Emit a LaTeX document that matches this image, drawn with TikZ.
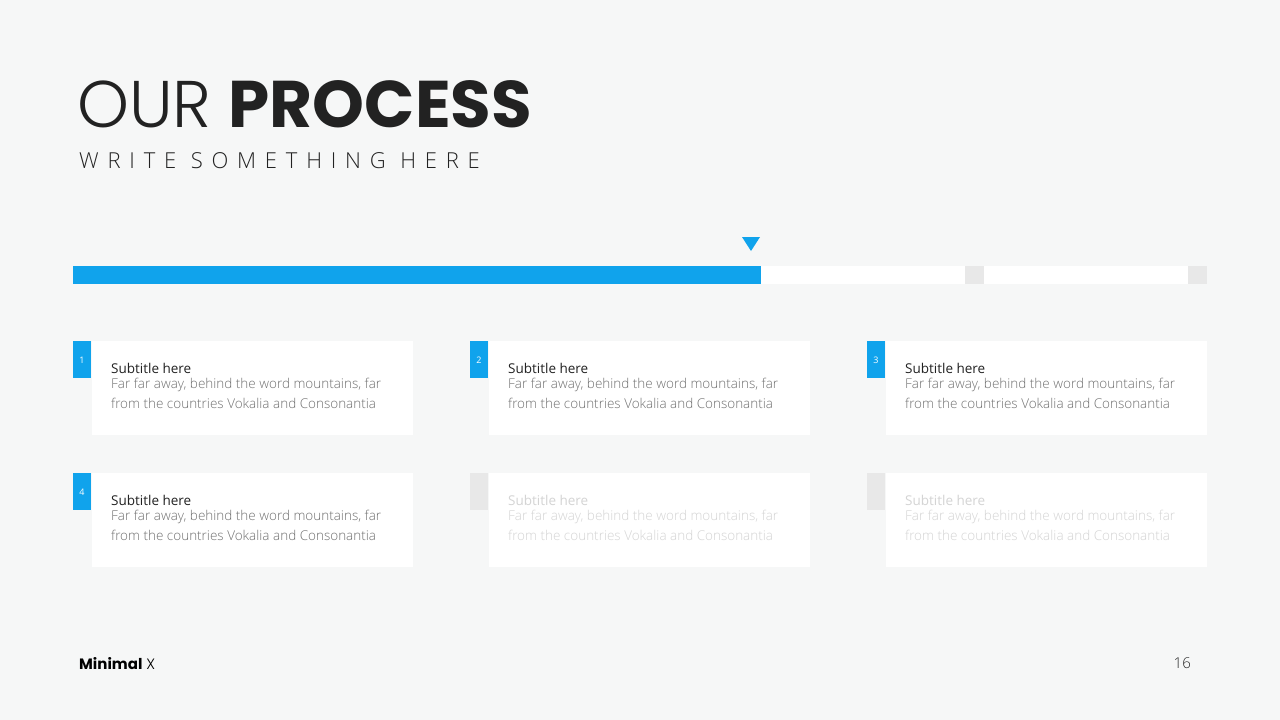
\documentclass[tikz,border=0pt]{standalone}
\usepackage{fontspec}
\setmainfont{Open Sans}
\newfontfamily\pop{Poppins}
\newfontfamily\popl{Poppins Light}
\newfontfamily\osl[LetterSpace=40]{Open Sans Light}
\newfontfamily\oslight{Open Sans Light}
\definecolor{bg}{HTML}{F6F7F7}
\definecolor{blu}{HTML}{10A3EC}
\definecolor{gry}{HTML}{E8E8E8}
\definecolor{dark}{HTML}{222222}
\definecolor{body}{HTML}{707070}
\definecolor{faded}{HTML}{D4D4D4}
\tikzset{
  card/.style={fill=white,draw=none},
  sub/.style={anchor=base west,inner sep=0pt,font=\fontsize{13.5}{16}\selectfont},
  txt/.style={anchor=north west,inner sep=0pt,align=left,font=\oslight\fontsize{13.5}{20}\selectfont},
}
\begin{document}
\begin{tikzpicture}[x=1pt,y=-1pt]
\fill[bg] (0,0) rectangle (1280,720);
\useasboundingbox (0,0) rectangle (1280,720);
\node[anchor=base west,inner sep=0pt,text=dark] (title) at (77,127) {\fontsize{66}{70}\selectfont{\popl OUR} {\pop\bfseries PROCESS}};
\node[anchor=base west,inner sep=0pt,text=dark] (subt) at (79,168) {\osl\fontsize{22}{24}\selectfont WRITE SOMETHING HERE};
% bar
\fill[blu] (73,266) rectangle (761,284);
\fill[white] (761,266) rectangle (965,284);
\fill[gry] (965,266) rectangle (984,284);
\fill[white] (984,266) rectangle (1188,284);
\fill[gry] (1188,266) rectangle (1207,284);
\fill[blu] (742,237) -- (760,237) -- (751,251) -- cycle;
% cards
\foreach \i/\cx/\cy/\tab/\tc/\bc/\num in {1/0/0/blu/dark/body/1,2/397/0/blu/dark/body/2,3/794/0/blu/dark/body/3,4/0/132/blu/dark/body/4,5/397/132/gry/faded/faded/,6/794/132/gry/faded/faded/}{
  \fill[card] (92+\cx,341+\cy) rectangle (413+\cx,435+\cy);
  \fill[\tab] (73+\cx,341+\cy) rectangle (91+\cx,378+\cy);
  \node[text=white,font=\fontsize{9}{10}\selectfont,inner sep=0pt] (n\i) at (82+\cx,360+\cy) {\num};
  \node[sub,text=\tc] (s\i) at (111+\cx,373+\cy) {Subtitle here};
  \node[txt,text=\bc] (t\i) at (111+\cx,378+\cy) {Far far away, behind the word mountains, far\\from the countries Vokalia and Consonantia};
}
\node[anchor=base west,inner sep=0pt,text=black] (brand) at (79,669) {\fontsize{15}{18}\selectfont{\pop\bfseries Minimal} {\popl X}};
\node[anchor=base east,inner sep=0pt,text=dark] (pg) at (1191,668) {\oslight\fontsize{15}{18}\selectfont 16};
\end{tikzpicture}
\end{document}
